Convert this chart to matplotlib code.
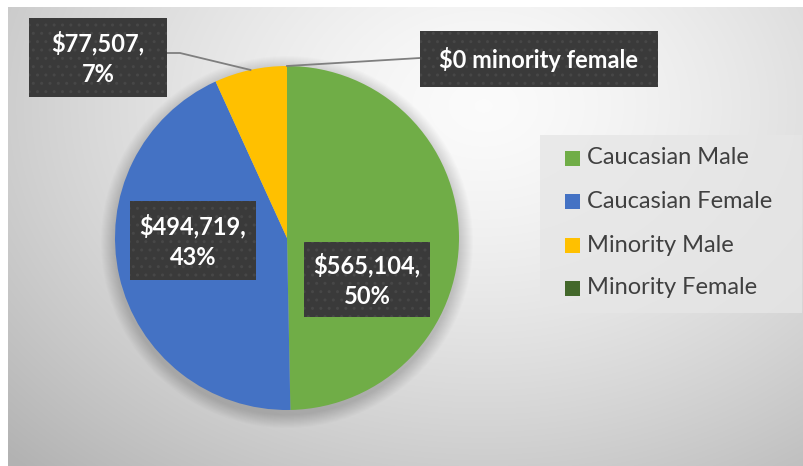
import numpy as np
import matplotlib
matplotlib.use("Agg")
import matplotlib.pyplot as plt
from matplotlib.patches import Rectangle

categories = ["Caucasian Male", "Caucasian Female", "Minority Male", "Minority Female"]
values = [565104, 494719, 77507, 0]
colors = ["#70AD47", "#4472C4", "#FFC000", "#43682B"]
label_texts = ["$565,104,\n50%", "$494,719,\n43%", "$77,507,\n7%", "$0 minority female"]

W, H = 804, 466
plt.rcParams["hatch.color"] = "#474747"
plt.rcParams["hatch.linewidth"] = 1.0
fig = plt.figure(figsize=(W / 100, H / 100), dpi=100)
fig.patch.set_facecolor("white")

# background gradient
bg = fig.add_axes([0, 0, 1, 1])
bg.axis("off")
yy, xx = np.mgrid[0:H, 0:W]
cx, cy = 480, 100
d = np.sqrt(((xx - cx) / 560.0) ** 2 + ((yy - cy) / 420.0) ** 2)
g = 0.985 - 0.22 * np.clip(d, 0, 1.2) ** 1.4
img = np.dstack([g, g, g])
bg.imshow(img, extent=[8, W, H, 7], aspect="auto", zorder=0)
bg.set_xlim(0, W)
bg.set_ylim(H, 0)

# pie
pcx, pcy, R = 287, 238, 172
for i in range(14):
    bg.add_patch(plt.Circle((pcx, pcy + 4), R + 14 - i, color="black", alpha=0.012, lw=0, zorder=1))

pax = fig.add_axes([(pcx - R) / W, (H - pcy - R) / H, 2 * R / W, 2 * R / H])
wedges, _ = pax.pie(values, colors=colors, startangle=90, counterclock=False,
                    radius=1, wedgeprops=dict(linewidth=0))
pax.set_xlim(-1, 1)
pax.set_ylim(-1, 1)
pax.set_aspect("equal")
pax.axis("off")

# overlay
ov = fig.add_axes([0, 0, 1, 1])
ov.set_xlim(0, W)
ov.set_ylim(H, 0)
ov.axis("off")
ov.patch.set_alpha(0)

total = float(sum(values))
fr = np.cumsum([0] + values) / total

def edge_point(frac):
    ang = np.deg2rad(90 - 360 * frac)
    return pcx + R * np.cos(ang), pcy - R * np.sin(ang)

font = "Lato"

def label_box(x0, y0, x1, y1, text, fs=17):
    ov.add_patch(Rectangle((x0, y0), x1 - x0, y1 - y0, fc="#3a3a3a", ec="none", zorder=5))
    ov.add_patch(Rectangle((x0, y0), x1 - x0, y1 - y0, fc="none", ec="#474747", lw=0,
                           hatch="..", zorder=5.5))
    ov.text((x0 + x1) / 2, (y0 + y1) / 2 + 1, text, ha="center", va="center", color="white",
            fontsize=fs, fontweight="bold", family=font, linespacing=1.4, zorder=6)

p2 = edge_point((fr[2] + fr[3]) / 2)
ov.plot([167, 180, p2[0]], [53, 53, p2[1]], color="#7f7f7f", lw=1.3, zorder=4)
p3 = edge_point(fr[3])
ov.plot([p3[0], 420], [p3[1], 58], color="#7f7f7f", lw=1.3, zorder=4)

label_box(304, 242, 430, 317, label_texts[0])
label_box(130, 201, 256, 280, label_texts[1])
label_box(29, 18, 167, 97, label_texts[2])
label_box(420, 31, 658, 87, label_texts[3])

# legend
ov.add_patch(Rectangle((540, 135), 262, 178, fc="#e6e6e6", ec="none", alpha=0.8, zorder=3))
ys = [158, 201, 245, 288]
for c, name, y in zip(colors, categories, ys):
    ov.add_patch(Rectangle((565, y - 7.5), 15, 15, fc=c, ec="none", zorder=4))
    ov.text(587, y, name, ha="left", va="center", color="#404040", fontsize=17,
            family=font, zorder=4)

fig.savefig("out.png", dpi=100)
